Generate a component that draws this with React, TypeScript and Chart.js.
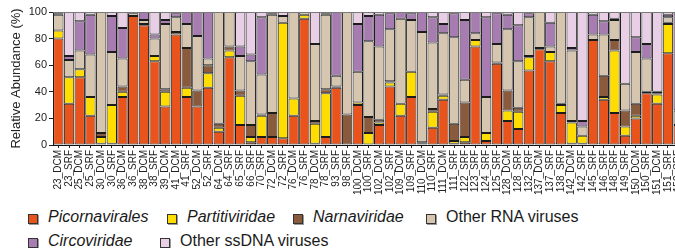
import React, { useEffect, useRef } from "react";
import { Chart, registerables } from "chart.js";

Chart.register(...registerables);

const categories = [
  "23_DCM", "23_SRF", "25_DCM", "25_SRF", "30_DCM", "30_SRF", "36_DCM", "36_SRF", "38_DCM", "38_SRF",
  "39_DCM", "41_DCM", "41_SRF", "52_DCM", "52_SRF", "64_DCM", "64_SRF", "65_SRF", "66_SRF", "70_SRF",
  "72_DCM", "72_SRF", "76_DCM", "76_SRF", "78_DCM", "78_SRF", "93_SRF", "98_SRF", "100_DCM", "100_SRF",
  "102_DCM", "102_SRF", "109_DCM", "109_SRF", "110_DCM", "110_SRF", "111_DCM", "111_SRF", "122_SRF", "123_SRF",
  "124_SRF", "125_SRF", "128_DCM", "128_SRF", "132_SRF", "137_DCM", "137_SRF", "138_SRF", "142_DCM", "142_SRF",
  "145_SRF", "146_SRF", "148_SRF", "149_SRF", "150_DCM", "150_SRF", "151_DCM", "151_SRF", "152_SRF",
];

const picornavirales = [
  80, 31, 51, 22, 1, 1, 36, 97, 90, 63,
  29, 83, 36, 29, 43, 10, 66, 15, 2, 6,
  6, 5, 22, 95, 1, 6, 43, 0, 30, 0,
  15, 44, 22, 36, 1, 13, 34, 1, 2, 74,
  3, 61, 18, 12, 56, 72, 63, 24, 1, 1,
  79, 34, 24, 7, 20, 39, 31, 69, 15,
];
const partitiviridae = [
  6, 20, 6, 14, 5, 29, 4, 0, 0, 4,
  11, 0, 7, 0, 11, 3, 5, 22, 4, 16,
  0, 87, 13, 3, 15, 33, 0, 0, 2, 9,
  2, 3, 9, 19, 0, 12, 3, 2, 4, 5,
  6, 0, 8, 13, 10, 0, 7, 6, 16, 6,
  0, 2, 47, 7, 2, 0, 7, 22, 0,
];
const narnaviridae = [
  0, 0, 0, 0, 3, 0, 4, 0, 1, 0,
  2, 2, 30, 12, 6, 3, 3, 4, 9, 1,
  18, 0, 0, 0, 2, 3, 1, 23, 0, 12,
  2, 1, 0, 0, 1, 2, 1, 13, 26, 0,
  0, 1, 15, 3, 1, 1, 0, 1, 1, 0,
  0, 16, 8, 12, 9, 1, 1, 1, 0,
];
const otherRna = [
  12, 13, 14, 32, 91, 40, 21, 2, 3, 13,
  49, 11, 18, 41, 5, 84, 26, 26, 48, 30,
  74, 5, 65, 2, 58, 56, 8, 77, 23, 57,
  55, 39, 64, 39, 83, 50, 46, 65, 17, 5,
  27, 14, 46, 35, 29, 27, 4, 69, 53, 7,
  4, 31, 15, 20, 39, 25, 1, 4, 11,
];
const circoviridae = [
  1, 3, 22, 30, 0, 27, 23, 1, 6, 3,
  3, 3, 9, 18, 35, 0, 0, 7, 5, 43,
  1, 0, 0, 0, 0, 1, 48, 0, 36, 19,
  24, 12, 5, 5, 15, 19, 7, 18, 45, 16,
  60, 23, 11, 27, 3, 0, 18, 0, 2, 4,
  15, 10, 1, 0, 11, 11, 0, 2, 73,
];
const otherSsdna = [
  1, 33, 7, 2, 0, 3, 12, 0, 0, 17,
  6, 1, 0, 0, 0, 0, 0, 26, 32, 4,
  1, 3, 0, 0, 24, 1, 0, 0, 9, 3,
  2, 1, 0, 1, 0, 4, 9, 1, 6, 0,
  4, 1, 2, 10, 1, 0, 8, 0, 27, 82,
  2, 7, 5, 54, 19, 24, 60, 2, 1,
];

const seriesNames = [
  "Picornavirales",
  "Partitiviridae",
  "Narnaviridae",
  "Other RNA viruses",
  "Circoviridae",
  "Other ssDNA viruses",
];
const seriesItalic = [true, true, true, false, true, false];
const seriesColors = ["#E9541D", "#FFDD00", "#8A5A3D", "#D6C6B0", "#A77CB1", "#E9CFE5"];
const seriesValues = [picornavirales, partitiviridae, narnaviridae, otherRna, circoviridae, otherSsdna];

const yTicks = [0, 20, 40, 60, 80, 100];

const FONT = "'Liberation Sans', Arial, Helvetica, sans-serif";

const legendItems = [
  { i: 0, box: 28, text: 48, row: 0 },
  { i: 1, box: 167, text: 187, row: 0 },
  { i: 2, box: 293, text: 313, row: 0 },
  { i: 3, box: 426, text: 446, row: 0 },
  { i: 4, box: 28, text: 48, row: 1 },
  { i: 5, box: 160, text: 180, row: 1 },
];

const topFramePlugin = {
  id: "topFrame",
  afterDraw(chart: any) {
    const { ctx, chartArea } = chart;
    ctx.save();
    ctx.strokeStyle = "#7a7a7a";
    ctx.lineWidth = 1;
    ctx.beginPath();
    ctx.moveTo(chartArea.left, Math.round(chartArea.top) + 0.5);
    ctx.lineTo(chartArea.right, Math.round(chartArea.top) + 0.5);
    ctx.stroke();
    ctx.restore();
  },
};

export default function App() {
  const ref = useRef<HTMLCanvasElement | null>(null);

  useEffect(() => {
    if (!ref.current) return;
    const chart = new Chart(ref.current, {
      type: "bar",
      data: {
        labels: categories,
        datasets: seriesNames.map((name, k) => ({
          label: name,
          data: seriesValues[k].map((v) => (v === 0 ? null : v)),
          backgroundColor: seriesColors[k],
          borderColor: "#1c1c1c",
          borderWidth: 1,
          borderSkipped: false,
          barPercentage: 1,
          categoryPercentage: 0.97,
        })),
      },
      options: {
        animation: false,
        responsive: false,
        devicePixelRatio: 1,
        layout: { padding: { top: 12, left: 0, right: 0, bottom: 0 } },
        plugins: {
          legend: { display: false },
          tooltip: { enabled: false },
        },
        scales: {
          x: {
            stacked: true,
            offset: true,
            grid: {
              display: true,
              drawOnChartArea: false,
              drawTicks: true,
              tickLength: 3,
              offset: false,
              color: "#222",
            },
            border: { display: true, color: "#111", width: 1 },
            ticks: {
              autoSkip: false,
              minRotation: 90,
              maxRotation: 90,
              padding: 2,
              color: "#222",
              font: { family: FONT, size: 10 },
            },
            afterFit(scale: any) {
              scale.height = 55;
              scale.paddingLeft = 0;
              scale.paddingRight = 0;
            },
          },
          y: {
            stacked: true,
            min: 0,
            max: 100,
            afterBuildTicks(scale: any) {
              scale.ticks = yTicks.map((v) => ({ value: v }));
            },
            grid: {
              display: true,
              drawOnChartArea: false,
              drawTicks: true,
              tickLength: 4,
              color: "#222",
            },
            border: { display: true, color: "#111", width: 1 },
            ticks: {
              padding: 2,
              color: "#222",
              font: { family: FONT, size: 11 },
            },
            title: {
              display: true,
              text: "Relative Abundance (%)",
              color: "#222",
              font: { family: FONT, size: 13 },
              padding: { top: 9, bottom: 0 },
            },
            afterFit(scale: any) {
              scale.width = 53;
            },
          },
        },
      },
      plugins: [topFramePlugin],
    } as any);
    return () => chart.destroy();
  }, []);

  return (
    <div
      style={{
        position: "absolute",
        left: 0,
        top: 0,
        width: 675,
        height: 248,
        overflow: "hidden",
        background: "#fff",
      }}
    >
      <canvas
        ref={ref}
        width={684}
        height={200}
        style={{ position: "absolute", left: 0, top: 0, width: 684, height: 200 }}
      />
      {legendItems.map((item) => {
        const baseTop = item.row === 0 ? 209 : 233;
        return (
          <React.Fragment key={item.i}>
            <div
              style={{
                position: "absolute",
                left: item.box,
                top: baseTop + 5,
                width: 8,
                height: 8,
                background: seriesColors[item.i],
                border: "1px solid #333",
                boxShadow: "1px 1px 0 #9a9a9a",
              }}
            />
            <div
              style={{
                position: "absolute",
                left: item.text,
                top: baseTop,
                fontFamily: FONT,
                fontSize: 16,
                lineHeight: "16px",
                whiteSpace: "nowrap",
                color: "#1a1a1a",
                fontStyle: seriesItalic[item.i] ? "italic" : "normal",
              }}
            >
              {seriesNames[item.i]}
            </div>
          </React.Fragment>
        );
      })}
    </div>
  );
}
